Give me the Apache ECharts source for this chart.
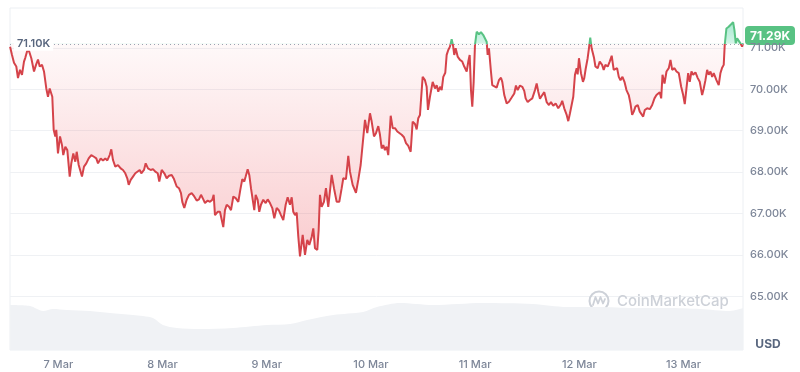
<!DOCTYPE html>
<html><head><meta charset="utf-8">
<script src="https://cdn.jsdelivr.net/npm/echarts@6/dist/echarts.min.js"></script>
<style>html,body{margin:0;padding:0;background:#fff}#c{width:800px;height:372px}</style>
</head><body><div id="c"></div>
<script>
// hours since 6 Mar 00:00
const hours = [
12.9,13.34,13.8,14.33,14.72,15.18,15.64,16.1,16.4,17.03,17.79,18.41,18.87,19.33,19.72,20.25,20.71,21.24,21.63,22.02,22.39,22.62,22.94,23.31,23.54,23.93,24.4,24.86,25.15,25.62,26.08,26.63,27.0,27.46,27.92,28.24,28.7,29.16,29.46,29.92,30.45,31.0,31.6,32.22,32.75,33.15,33.77,34.3,34.83,35.29,35.84,36.21,36.6,37.13,37.75,38.37,38.9,39.43,39.89,40.22,40.68,41.21,41.74,42.2,42.75,43.12,43.74,44.13,44.66,45.28,45.81,46.34,
46.9,47.26,47.82,48.42,48.97,49.5,50.12,50.65,51.27,51.8,52.26,52.56,53.02,53.57,54.1,54.72,55.32,55.88,56.41,56.87,57.4,57.79,58.41,58.94,59.47,59.79,60.09,60.71,61.24,61.63,62.0,62.39,62.79,63.32,63.78,64.31,64.86,65.46,65.92,66.38,66.84,67.16,67.62,67.99,68.38,68.77,69.14,69.46,69.92,70.29,70.68,71.21,71.77,72.23,72.76,73.29,73.75,74.3,74.83,75.29,75.82,76.37,76.83,77.36,77.76,78.12,78.52,78.91,79.28,79.67,
80.29,80.82,81.35,81.81,82.36,82.73,83.12,83.65,83.97,84.27,84.66,85.19,85.65,86.18,86.97,87.5,88.12,88.72,89.27,89.64,90.26,90.79,91.18,91.8,92.56,93.09,93.64,94.1,94.64,95.17,95.79,96.18,96.71,97.17,97.7,98.09,98.48,98.85,99.24,99.63,100.0,100.56,101.02,101.55,102.08,102.54,103.09,103.62,104.08,104.61,105.16,105.62,106.15,106.54,106.91,107.3,107.92,108.45,108.84,109.14,109.6,110.23,110.76,111.15,111.52,111.91,112.3,112.67,113.13,113.45,113.82,
114.21,114.6,114.9,115.2,115.52,115.98,116.51,117.04,117.5,118.06,118.43,118.75,119.05,119.35,119.67,119.97,120.36,120.89,121.35,121.88,122.27,122.66,122.89,123.19,123.65,123.95,124.41,124.96,125.49,125.96,126.26,126.72,127.27,127.8,128.42,129.02,129.41,129.8,130.33,130.86,131.32,131.64,132.11,132.64,133.17,133.79,134.18,134.55,134.94,135.47,135.93,136.48,137.01,137.47,138.0,138.55,139.15,139.77,140.07,140.53,141.09,141.46,141.85,142.24,142.61,143.0,143.39,143.62,143.92,144.38,144.84,145.14,145.46,145.92,146.22,146.52,146.84,
147.37,147.71,148.24,148.7,149.25,149.62,150.01,150.54,151.0,151.46,151.92,152.31,152.7,153.09,153.48,153.94,154.4,154.86,155.39,155.78,156.17,156.54,156.93,157.46,157.92,158.25,158.71,159.08,159.63,160.23,160.78,161.31,161.77,162.16,162.53,162.86,163.16,163.62,164.08,164.61,165.0,165.39,165.92,166.38,166.91,167.46,167.92,168.29,168.68,169.07,169.44,169.83,170.22,170.75,171.28,171.74,172.29,172.66,173.05,173.44,173.81,174.2,174.6,174.96,175.58,176.11,176.5,176.89,177.26,177.49,177.88,178.41,178.97,179.43,179.73,180.03,180.35,180.72,181.11,181.5,181.7
];
// BTC price, thousands of USD
const prices = [
71.03,70.83,70.64,70.55,70.27,70.47,70.35,70.67,70.76,71.0,70.75,70.43,70.59,70.72,70.55,70.59,70.43,70.02,69.82,70.02,70.06,69.82,69.02,68.86,69.02,68.45,68.86,68.65,68.41,68.61,68.53,67.89,68.21,68.45,68.25,68.49,68.17,68.13,67.89,68.13,68.21,68.33,68.41,68.37,68.33,68.21,68.33,68.28,68.33,68.28,68.41,68.55,68.29,68.13,68.17,68.09,68.05,67.97,67.85,67.69,67.81,67.89,67.97,67.93,68.05,67.97,68.05,68.21,68.09,68.05,68.07,68.01,
67.97,67.77,68.05,67.97,67.85,67.91,67.93,67.83,67.65,67.61,67.49,67.28,67.13,67.33,67.45,67.49,67.41,67.31,67.34,67.45,67.34,67.25,67.31,67.28,67.33,67.45,66.96,67.04,67.04,67.0,66.67,67.08,67.21,67.16,67.08,67.41,67.37,67.28,67.57,67.83,67.77,67.89,68.07,67.93,67.61,67.57,67.08,67.45,67.33,67.04,67.21,67.33,67.25,67.34,67.25,67.13,66.88,67.13,67.07,66.96,66.84,67.21,67.39,67.21,67.39,67.04,66.96,67.02,66.44,65.96,
66.48,66.0,66.36,66.24,66.43,66.64,66.16,66.12,66.6,67.45,67.16,67.28,67.61,67.16,67.93,67.61,67.28,67.28,67.61,67.85,67.83,68.39,68.01,67.69,67.5,67.81,68.17,68.21,69.26,68.94,69.42,69.22,68.86,68.94,69.11,68.9,68.57,68.65,68.53,68.61,68.41,69.36,69.06,69.06,68.98,69.02,68.9,68.84,68.7,68.63,68.49,69.22,69.16,69.03,69.3,69.38,70.3,70.22,70.06,69.5,69.82,70.18,70.02,70.1,69.94,70.06,69.98,70.3,70.4,70.83,70.95,
71.03,71.21,71.07,70.83,70.99,70.79,70.71,70.67,70.55,70.43,70.67,70.83,69.98,69.58,70.18,71.07,71.39,71.33,71.38,71.31,71.35,71.15,70.83,70.99,70.43,70.1,70.06,70.04,70.22,70.28,70.18,69.86,69.66,69.7,69.8,69.9,70.09,69.98,70.09,70.06,69.96,69.78,69.69,69.74,69.78,69.98,70.14,69.94,69.77,69.86,69.93,69.69,69.62,69.69,69.6,69.66,69.54,69.64,69.72,69.54,69.38,69.23,69.42,69.38,69.82,70.35,70.51,70.36,70.75,70.39,70.18,70.27,70.49,70.75,70.99,71.25,70.99,
70.77,70.55,70.51,70.67,70.59,70.47,70.59,70.55,70.67,70.81,70.47,70.43,70.51,70.3,70.22,70.3,70.18,69.98,69.86,69.66,69.38,69.46,69.58,69.62,69.46,69.5,69.34,69.5,69.54,69.52,69.62,69.78,69.86,69.82,69.93,69.78,70.35,70.14,70.43,70.51,70.71,70.47,70.51,70.43,70.39,70.06,69.86,69.64,70.02,70.39,70.18,70.43,70.35,70.41,70.27,70.18,69.86,70.02,70.22,70.47,70.35,70.43,70.3,70.39,70.22,70.1,70.39,70.52,70.59,71.07,71.47,71.51,71.57,71.62,71.43,71.11,71.23,71.25,71.11,71.03,71.11
];
// volume (billions USD, rolling)
const volHours = [12.9,17.5,20.5,22.8,26.0,31.3,35.9,41.2,45.8,48.1,51.3,56.6,64.2,72.1,77.4,81.3,87.3,94.2,97.4,102.7,110.3,121.8,133.3,141.2,148.8,156.4,164.2,171.8,178.7,181.7];
const volumes = [45,44,39,41,40,39,37,35,32,25,22,21,22,25,26,30,35,38,43,47,45,47,46,43,43,42,42,41,39,42];

const xTickHours = [24,48,72,96,120,144,168];
const xTickLabels = ['7 Mar','8 Mar','9 Mar','10 Mar','11 Mar','12 Mar','13 Mar'];
const yTickValues = [65,66,67,68,69,70,71];
const refPrice = 71.10;
const lastPrice = 71.29;

const FONT = 'Inter, "Noto Sans", sans-serif';
const RED = '#d5434a', GREEN = '#58c283';

const priceData = hours.map((h, i) => [h, prices[i]]);
const volData = volHours.map((h, i) => [h, volumes[i]]);

const chart = echarts.init(document.getElementById('c'), null, {renderer: 'canvas'});

const option = {
  animation: false,
  backgroundColor: '#fff',
  grid: {left: 10, right: 57, top: 8, bottom: 22, show: true, borderColor: '#eceff3', borderWidth: 1},
  xAxis: {
    type: 'value', min: 12.88, max: 181.7,
    axisLine: {show: false}, axisTick: {show: false}, splitLine: {show: false},
    axisLabel: {
      customValues: xTickHours,
      formatter: v => xTickLabels[xTickHours.indexOf(v)],
      color: '#7d8698', fontSize: 11, fontFamily: FONT, fontWeight: 500, margin: 9
    }
  },
  yAxis: [{
    type: 'value', position: 'right', min: 63.70, max: 71.964,
    axisLine: {show: false},
    axisTick: {show: false, customValues: yTickValues},
    splitLine: {show: true, lineStyle: {color: '#eff1f4', width: 1}},
    axisLabel: {
      customValues: yTickValues,
      formatter: v => v.toFixed(2) + 'K',
      color: '#7d8698', fontSize: 11, fontFamily: FONT, fontWeight: 500, margin: 7
    }
  }, {
    type: 'value', min: 0, max: 342, show: false
  }],
  series: [{
    type: 'line', yAxisIndex: 1, data: volData, smooth: 0.3, symbol: 'none',
    lineStyle: {width: 0}, areaStyle: {color: '#f0f2f5', opacity: 1}, z: 1, silent: true
  }, {
    type: 'line', data: priceData, symbol: 'none', z: 3,
    lineStyle: {width: 2, color: RED},
    areaStyle: {origin: refPrice, color: 'rgba(234,57,67,0.08)', opacity: 1},
    markLine: {
      silent: true, symbol: ['none', 'none'],
      lineStyle: {color: '#9aa2b0', type: [1, 3], width: 1},
      label: {show: false},
      data: [{yAxis: refPrice}]
    }
  }]
};
chart.setOption(option);

const yPix = v => chart.convertToPixel({yAxisIndex: 0}, v);
const yBase = yPix(refPrice);
const yTop = yPix(Math.max(...prices));
const yBot = yPix(Math.min(...prices));
const f = (yBase - yTop) / (yBot - yTop);

chart.setOption({
  series: [{}, {
    lineStyle: {
      width: 2,
      color: new echarts.graphic.LinearGradient(0, yTop, 0, yBot, [
        {offset: 0, color: GREEN}, {offset: f, color: GREEN},
        {offset: f, color: RED}, {offset: 1, color: RED}
      ], true)
    },
    areaStyle: {
      origin: refPrice, opacity: 1,
      color: new echarts.graphic.LinearGradient(0, yTop, 0, yBot, [
        {offset: 0, color: 'rgba(22,199,132,0.38)'},
        {offset: f, color: 'rgba(22,199,132,0.18)'},
        {offset: f, color: 'rgba(234,57,67,0.03)'},
        {offset: 1, color: 'rgba(234,57,67,0.26)'}
      ], true)
    }
  }],
  graphic: [
    {type: 'text', left: 14, top: yBase - 8, z: 10,
      style: {text: refPrice.toFixed(2) + 'K', fill: '#58667e', font: '600 11px ' + FONT,
        backgroundColor: '#fff', padding: [2, 3, 2, 3]}},
    {type: 'group', left: 745, top: yPix(lastPrice) - 10, z: 10, children: [
      {type: 'rect', shape: {x: 0, y: 0, width: 50, height: 19, r: 4}, style: {fill: GREEN}},
      {type: 'text', style: {x: 25, y: 10, text: lastPrice.toFixed(2) + 'K', fill: '#fff',
        font: '700 12px ' + FONT, textAlign: 'center', textVerticalAlign: 'middle'}}
    ]},
    {type: 'text', z: 10, style: {x: 768, y: 344, text: 'USD', fill: '#58667e',
      font: '700 12px ' + FONT, textAlign: 'center', textVerticalAlign: 'middle'}},
    {type: 'group', z: 2, silent: true, children: [
      {type: 'circle', shape: {cx: 599, cy: 301, r: 9.5}, style: {fill: 'none', stroke: '#cdd1d8', lineWidth: 2}},
      {type: 'polyline', shape: {points: [[593, 305], [595.5, 297], [598, 303.5], [600.5, 297], [603, 303.5], [605, 299]]},
        style: {fill: 'none', stroke: '#cdd1d8', lineWidth: 1.8, lineJoin: 'round', lineCap: 'round'}},
      {type: 'text', style: {x: 617, y: 301, text: 'CoinMarketCap', fill: '#cdd1d8',
        font: '500 15px ' + FONT, textVerticalAlign: 'middle'}}
    ]}
  ]
});
</script>
</body></html>
